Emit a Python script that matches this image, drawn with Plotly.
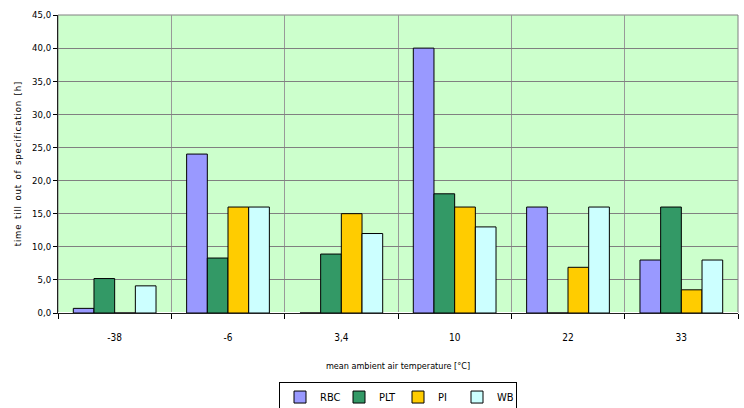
import plotly.graph_objects as go

categories = ["-38", "-6", "3,4", "10", "22", "33"]
series_names = ["RBC", "PLT", "PI", "WB"]
rbc = [0.7, 24.0, 0.0, 40.0, 16.0, 8.0]
plt_ = [5.2, 8.3, 8.9, 18.0, 0.0, 16.0]
pi = [0.0, 16.0, 15.0, 16.0, 6.9, 3.5]
wb = [4.1, 16.0, 12.0, 13.0, 16.0, 8.0]
colors = ["#9999FF", "#339966", "#FFCC00", "#CCFFFF"]
y_ticks = [0, 5, 10, 15, 20, 25, 30, 35, 40, 45]

FONT = "DejaVu Sans Condensed, Liberation Sans Narrow, Arial Narrow, sans-serif"

y_title = "\u200a".join("time till out of specification [h]").replace("\u200a \u200a", "  ")

fig = go.Figure()
for name, vals, col in zip(series_names, [rbc, plt_, pi, wb], colors):
    fig.add_trace(go.Bar(
        name=name, x=categories, y=vals,
        marker=dict(color=col, line=dict(color="#000000", width=1)),
    ))

fig.add_shape(type="rect", xref="paper", yref="paper", x0=0, x1=1, y0=0, y1=1,
              line=dict(color="#808080", width=1), fillcolor="rgba(0,0,0,0)", layer="below")

fig.update_layout(
    width=744, height=408,
    barmode="group", bargap=0.27, bargroupgap=0,
    paper_bgcolor="white", plot_bgcolor="#CCFFCC",
    separators=", ",
    font=dict(family=FONT, size=9, color="#000000"),
    margin=dict(l=58, r=6, t=15, b=95, autoexpand=False),
    showlegend=True,
    legend=dict(
        orientation="h", x=0.5, xanchor="center", y=-0.23, yanchor="top",
        bordercolor="#000000", borderwidth=1, bgcolor="white",
        font=dict(family=FONT, size=11), itemwidth=30,
        entrywidth=14,
    ),
    xaxis=dict(
        type="category", tickson="boundaries", automargin=False,
        showgrid=True, gridcolor="#999999", gridwidth=1,
        showline=True, linecolor="#202020", linewidth=1,
        ticks="outside", ticklen=5, tickcolor="#000000",
        tickfont=dict(size=10), ticklabelstandoff=15,
        title=dict(text="mean ambient air temperature [°C]", font=dict(size=9), standoff=20),
    ),
    yaxis=dict(
        range=[0, 45], tickvals=y_ticks, tickformat=".1f", automargin=False,
        showgrid=True, gridcolor="#808080", gridwidth=1,
        showline=True, linecolor="#202020", linewidth=1,
        ticks="outside", ticklen=4, tickcolor="#000000",
        tickfont=dict(size=9.5),
        title=dict(text=y_title, font=dict(size=9.5), standoff=8),
    ),
)

fig.write_html("out.html", config={"displayModeBar": False},
               post_script="document.body.style.margin='0px';document.body.style.padding='0px';")
